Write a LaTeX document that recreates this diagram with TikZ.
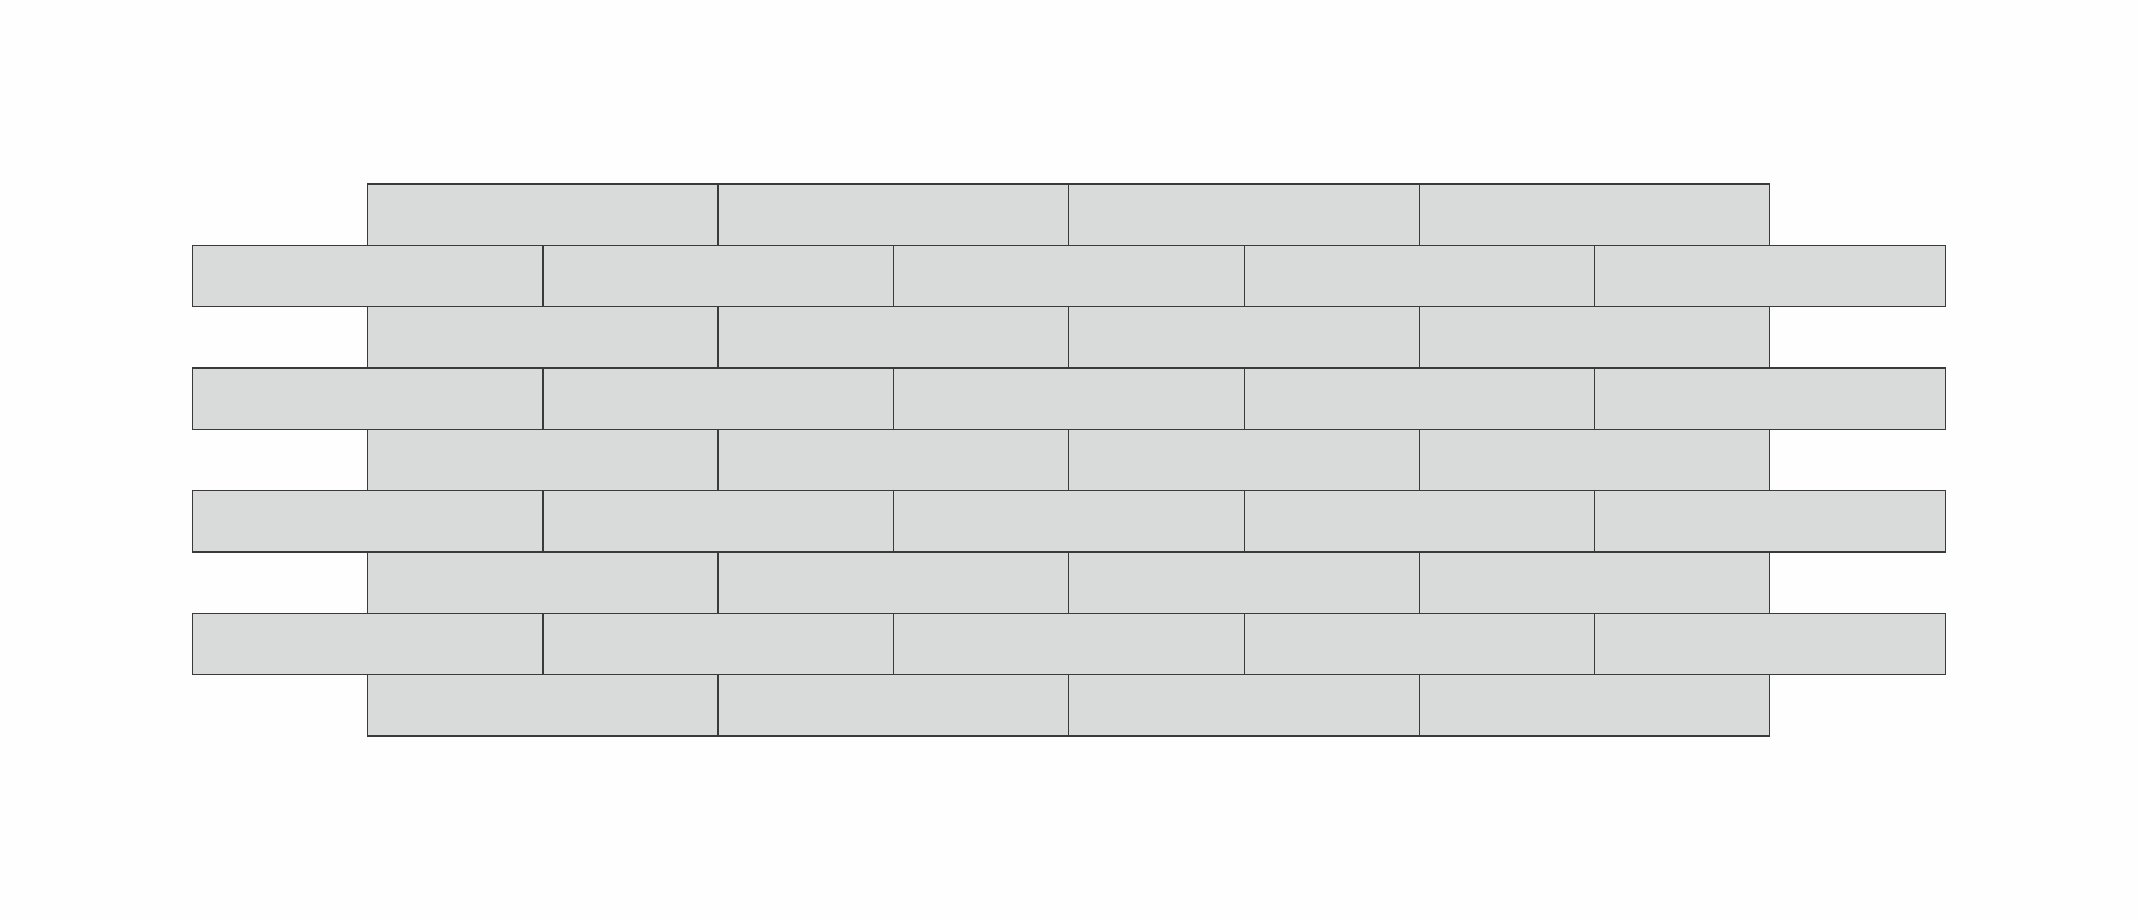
\documentclass[tikz,border=0pt]{standalone}
\definecolor{brickfill}{HTML}{D9DADA}
\definecolor{brickline}{HTML}{3A3A3A}
\definecolor{bgc}{HTML}{FEFEFE}
\tikzset{brick/.style={fill=brickfill,draw=brickline,line width=1.1pt}}
\begin{document}
\begin{tikzpicture}[x=1pt,y=-1pt]
\fill[bgc] (0,0) rectangle (2138,920);
\useasboundingbox (0,0) rectangle (2138,920);
\def\bw{350.65}
\def\bh{61.33}
\foreach \r in {0,...,8}{
  \pgfmathsetmacro{\yt}{184+\r*\bh}
  \pgfmathsetmacro{\yb}{\yt+\bh}
  \ifodd\r
    \foreach \c in {0,...,4}{
      \pgfmathsetmacro{\xl}{192.3+\c*\bw}
      \draw[brick] (\xl,\yt) rectangle ++(\bw,\bh);
    }
  \else
    \foreach \c in {0,...,3}{
      \pgfmathsetmacro{\xl}{367.3+\c*\bw}
      \draw[brick] (\xl,\yt) rectangle ++(\bw,\bh);
    }
  \fi
}
\end{tikzpicture}
\end{document}
